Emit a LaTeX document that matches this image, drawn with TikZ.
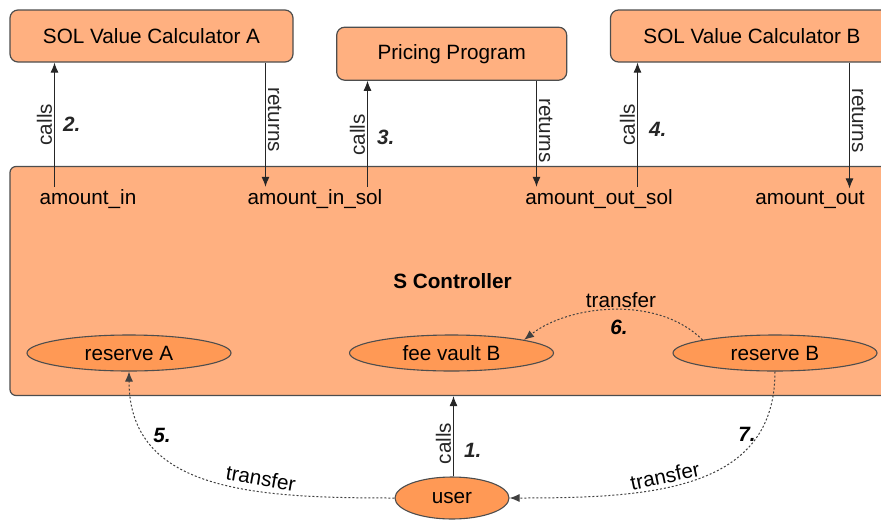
\documentclass[tikz,border=0pt]{standalone}
\usepackage{fontspec}
\setmainfont{Liberation Sans}
\usetikzlibrary{arrows.meta, shapes.geometric}

\definecolor{naranja}{RGB}{255,176,128}
\definecolor{naranjaosc}{RGB}{255,153,85}
\definecolor{borde}{RGB}{77,77,77}

\begin{document}
\begin{tikzpicture}[x=1pt, y=-1pt, font=\fontsize{20.7}{24}\selectfont,
    caja/.style={draw=borde, line width=1.2pt, fill=naranja, rounded corners=8pt, inner sep=0pt},
    reserva/.style={ellipse, draw=borde, line width=1.1pt, fill=naranjaosc, inner sep=0pt,
        minimum width=204pt, minimum height=36pt},
    llamada/.style={arrows={-Latex[length=10pt,width=8pt]}, line width=1pt, black!85},
    envio/.style={arrows={-Latex[length=10pt,width=8pt]}, line width=1pt, black!75,
        dash pattern=on 2pt off 2pt},
    etiqueta/.style={inner sep=2pt},
    paso/.style={font=\fontsize{20.7}{24}\selectfont\bfseries\itshape, inner sep=0pt}]

    \useasboundingbox (0,0) rectangle (881,520);
    \clip (0,0) rectangle (881,520);

    % --- Programas externos ---
    \node[caja, minimum width=283pt, minimum height=52pt] (calcA) at (151.5,36) {SOL Value Calculator A};
    \node[caja, minimum width=230pt, minimum height=53pt] (pricing) at (451.7,53.7) {Pricing Program};
    \node[caja, minimum width=283pt, minimum height=52pt] (calcB) at (752,36) {SOL Value Calculator B};

    % --- Controlador ---
    \node[caja, rounded corners=6pt, minimum width=885pt, minimum height=229pt,
        font=\fontsize{20.7}{24}\selectfont\bfseries] (ctrl) at (452.5,281) {S Controller};

    \node[etiqueta, anchor=base] (ain) at (88,204) {amount\_in};
    \node[etiqueta, anchor=base] (ainsol) at (315,204) {amount\_in\_sol};
    \node[etiqueta, anchor=base] (aoutsol) at (599,204) {amount\_out\_sol};
    \node[etiqueta, anchor=base] (aout) at (810,204) {amount\_out};

    \node[reserva] (resA) at (129,353) {reserve A};
    \node[reserva] (fee) at (451.5,353) {fee vault B};
    \node[reserva] (resB) at (775,353) {reserve B};

    % --- Usuario ---
    \node[reserva, minimum width=114pt, minimum height=42pt] (user) at (452,498) {user};

    % --- Llamadas y retornos ---
    \draw[llamada] (54.5,0 |- ain.north) -- (54.5,0 |- calcA.south)
        node[pos=.5, rotate=90, anchor=south, etiqueta] (c2) {calls}
        node[pos=.5, right=8pt, paso] (n2) {2.};
    \draw[llamada] (265.5,0 |- calcA.south) -- (265.5,0 |- ainsol.north)
        node[pos=.46, rotate=-90, anchor=south, etiqueta] (r2) {returns};

    \draw[llamada] (367.5,0 |- ainsol.north) -- (367.5,0 |- pricing.south)
        node[pos=.49, rotate=90, anchor=south, etiqueta] (c3) {calls}
        node[pos=.47, right=9pt, paso] (n3) {3.};
    \draw[llamada] (536.5,0 |- pricing.south) -- (536.5,0 |- aoutsol.north)
        node[pos=.47, rotate=-90, anchor=south, etiqueta] (r3) {returns};

    \draw[llamada] (637.5,0 |- aoutsol.north) -- (637.5,0 |- calcB.south)
        node[pos=.5, rotate=90, anchor=south, etiqueta] (c4) {calls}
        node[pos=.46, right=11pt, paso] (n4) {4.};
    \draw[llamada] (849.5,0 |- calcB.south) -- (849.5,0 |- aout.north)
        node[pos=.46, rotate=-90, anchor=south, etiqueta] (r4) {returns};

    \draw[llamada] (user.north -| 453.5,0) -- (453.5,0 |- ctrl.south)
        node[pos=.41, rotate=90, anchor=south, etiqueta] (c1) {calls}
        node[pos=.33, right=10pt, paso] (n1) {1.};

    % --- Transferencias ---
    \draw[envio] (user.west) .. controls +(-140,0) and +(0,120) .. (resA.south);
    \draw[envio] (resB.south) .. controls +(0,120) and +(140,0) .. (user.east);
    \draw[envio] (resB.north west) .. controls +(-45,-45) and +(45,-35) .. (fee.north east);

    \node[etiqueta, rotate=-10] (t5) at (261,478) {transfer};
    \node[etiqueta] (t6) at (621,300) {transfer};
    \node[etiqueta, rotate=12] (t7) at (665,476) {transfer};

    \node[paso] (p5) at (162,435) {5.};
    \node[paso] (p6) at (619,327) {6.};
    \node[paso] (p7) at (747,434) {7.};

\end{tikzpicture}
\end{document}
